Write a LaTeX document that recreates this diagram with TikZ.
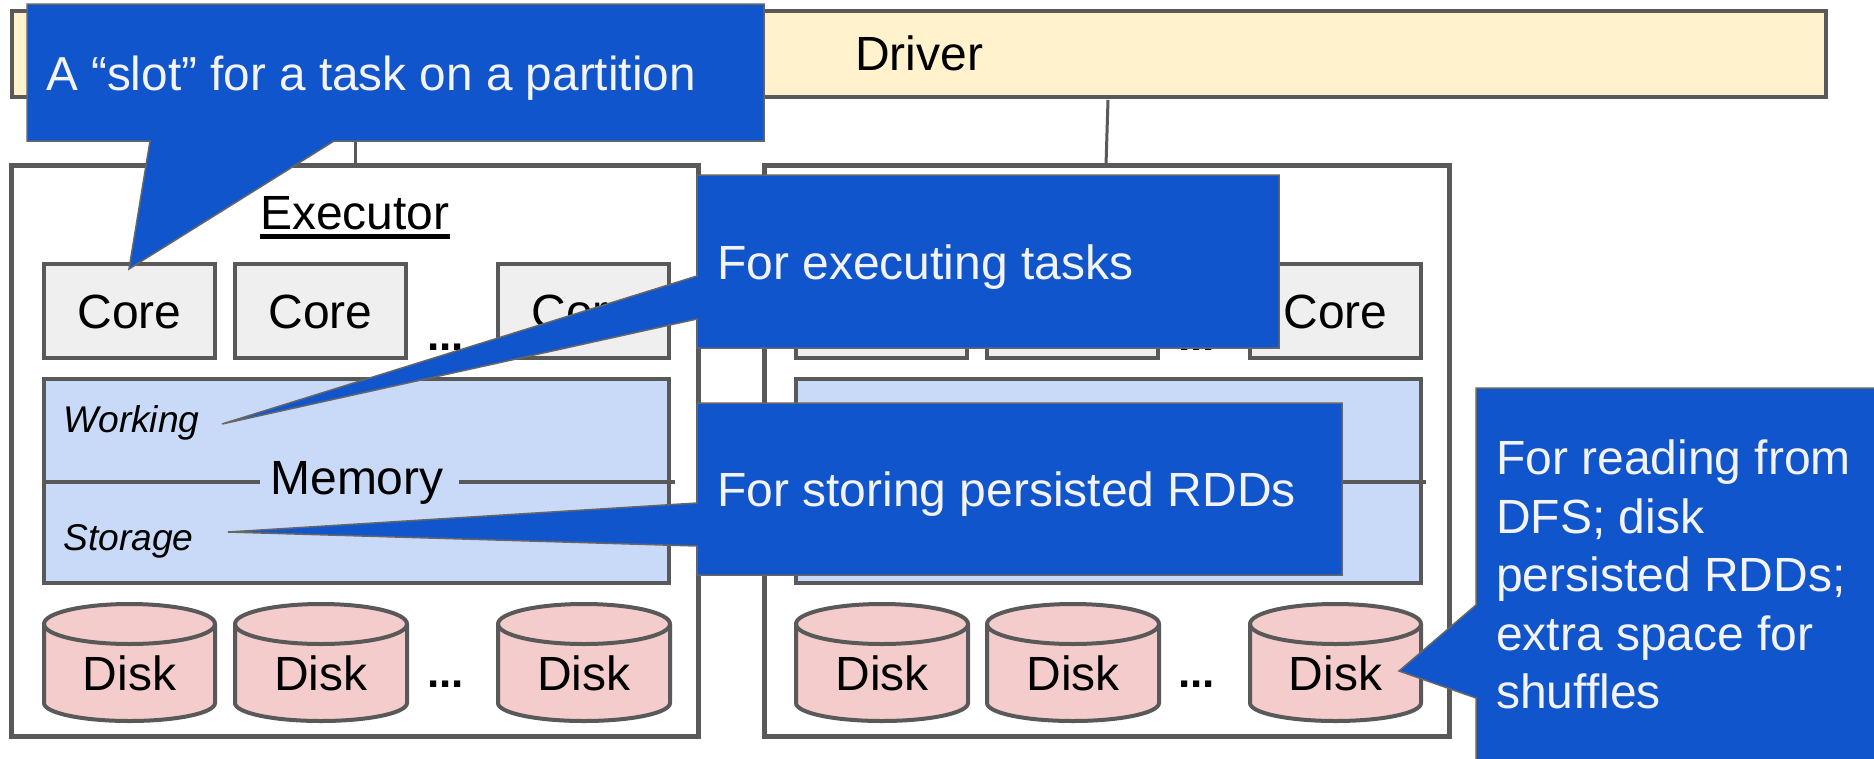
\documentclass[tikz,border=0pt]{standalone}
\usepackage{fontspec}
\setmainfont{Liberation Sans}
\definecolor{edge}{HTML}{595959}
\definecolor{calloutedge}{HTML}{666666}
\definecolor{calloutfill}{HTML}{1155CC}
\definecolor{calloutink}{HTML}{F3F3F3}
\definecolor{driverfill}{HTML}{FFF2CC}
\definecolor{corefill}{HTML}{EFEFEF}
\definecolor{memfill}{HTML}{C9DAF8}
\definecolor{diskfill}{HTML}{F4CCCC}
\newcommand{\bignum}{\fontsize{48}{58.5}\selectfont}
\newcommand{\thickul}[1]{\vtop{\hbox{#1}\kern5pt\hrule height 4.5pt}}
% box by corners: name, style, x1, y1, x2, y2
\newcommand{\cornerbox}[6]{%
  \pgfmathsetmacro{\bw}{#5-#3}\pgfmathsetmacro{\bh}{#6-#4}%
  \node[#2,anchor=north west,outer sep=0pt,minimum width=\bw pt,minimum height=\bh pt] (#1) at (#3,#4) {};}
% disk: name, x1, x2
\newcommand{\diskshape}[3]{%
  \pgfmathsetmacro{\dm}{(#2+#3)/2}\pgfmathsetmacro{\dr}{(#3-#2)/2}%
  \draw[diskline] (#2,624) -- (#2,703) arc[start angle=180,end angle=360,x radius=\dr pt,y radius=18pt]
     -- (#3,624) arc[start angle=0,end angle=180,x radius=\dr pt,y radius=20pt] -- cycle;
  \draw[diskline,fill=none] (#2,624) arc[start angle=180,end angle=360,x radius=\dr pt,y radius=20pt];
  \node[label,anchor=base] (#1) at (\dm,690) {Disk};}
\tikzset{
  framebox/.style={draw=edge,line width=5pt,fill=white,inner sep=0pt},
  driverbox/.style={draw=edge,line width=4pt,fill=driverfill,inner sep=0pt},
  corebox/.style={draw=edge,line width=4pt,fill=corefill,inner sep=0pt},
  membox/.style={draw=edge,line width=4pt,fill=memfill,inner sep=0pt},
  diskline/.style={draw=edge,line width=4pt,fill=diskfill},
  label/.style={inner sep=0pt,font=\bignum,text=black},
  small/.style={inner sep=0pt,font=\fontsize{37.2}{44}\selectfont\itshape,text=black,anchor=base west},
  dots/.style={inner sep=0pt,font=\fontsize{44}{50}\selectfont\bfseries,text=black,anchor=base west},
  wire/.style={draw=edge,line width=3pt},
  memline/.style={draw=edge,line width=4pt},
  callout/.style={draw=calloutedge,line width=1.5pt,fill=calloutfill,line join=miter},
  callouttext/.style={inner sep=0pt,font=\bignum,text=calloutink,anchor=base west},
}
\begin{document}
\begin{tikzpicture}[x=1pt,y=-1pt]
\clip (0,0) rectangle (1874,758);
\fill[white] (0,0) rectangle (1874,758);
% driver
\cornerbox{driver}{driverbox}{12}{11}{1826}{97}
\node[label,anchor=base west] (drivertext) at (855,70) {Driver};
% executors
\cornerbox{execA}{framebox}{11}{165}{698}{736}
\cornerbox{execB}{framebox}{764}{165}{1449}{736}
\coordinate (wireA) at (355,100);
\coordinate (wireB) at (1108,100);
\draw[wire] (wireA) -- (execA.north -| wireA);
\draw[wire] (wireB) -- (1106,165);
\node[label,anchor=base west] (exectext) at (260,229) {\thickul{Executor}};
% cores
\cornerbox{coreA1}{corebox}{44}{264}{215}{358}
\cornerbox{coreA2}{corebox}{235}{264}{406}{358}
\cornerbox{coreA3}{corebox}{498}{264}{669}{358}
\cornerbox{coreB1}{corebox}{796}{264}{967}{358}
\cornerbox{coreB2}{corebox}{987}{264}{1158}{358}
\cornerbox{coreB3}{corebox}{1250}{264}{1421}{358}
\node[label,anchor=base] (ca1) at (129.5,328) {Core};
\node[label,anchor=base] (ca2) at (320.5,328) {Core};
\node[label,anchor=base] (ca3) at (583.5,328) {Core};
\node[label,anchor=base] (cb3) at (1335.5,328) {Core};
\node[dots] (dotsA) at (427,350) {...};
\node[dots] (dotsB) at (1178,350) {...};
% memory
\cornerbox{memA}{membox}{44}{379}{669}{583}
\cornerbox{memB}{membox}{796}{379}{1421}{583}
\node[label,anchor=base] (memtext) at (357,494) {Memory};
\coordinate (memAr) at (675,481.5);
\coordinate (memBr) at (1426,481.5);
\draw[memline] (memA.west |- memAr) -- (260,481.5);
\draw[memline] (459,481.5) -- (memAr);
\draw[memline] (1340,481.5) -- (memBr);
\node[small] (working) at (63,432) {Working};
\node[small] (storage) at (63,550) {Storage};
% disks
\diskshape{dA1}{44}{215}
\diskshape{dA2}{235}{407}
\diskshape{dA3}{498}{670}
\diskshape{dB1}{796}{968}
\diskshape{dB2}{987}{1159}
\diskshape{dB3}{1250}{1421}
\node[dots] (dotsC) at (427,687) {...};
\node[dots] (dotsD) at (1178,687) {...};
% callouts
\draw[callout] (27,4) -- (764,4) -- (764,141) -- (334,141) -- (129,269) -- (150,141) -- (27,141) -- cycle;
\node[callouttext,font=\fontsize{47.7}{58.5}\selectfont] (t1) at (46,90) {A “slot” for a task on a partition};
\draw[callout] (697,175) -- (1279,175) -- (1279,348) -- (697,348) -- (697,319) -- (222,424) -- (697,276) -- cycle;
\node[callouttext] (t2) at (717,279) {For executing tasks};
\draw[callout] (697,403) -- (1342,403) -- (1342,575) -- (697,575) -- (697,546) -- (228,532) -- (697,503) -- cycle;
\node[callouttext] (t3) at (717,506) {For storing persisted RDDs};
\draw[callout] (1476,388) -- (1880,388) -- (1880,765) -- (1476,765) -- (1476,698) -- (1399,671) -- (1476,605) -- cycle;
\node[inner sep=0pt,font=\bignum,text=calloutink,anchor=north west,align=left] (t4) at (1496,440)
  {For reading from\\DFS; disk\\persisted RDDs;\\extra space for\\shuffles};
\end{tikzpicture}
\end{document}
